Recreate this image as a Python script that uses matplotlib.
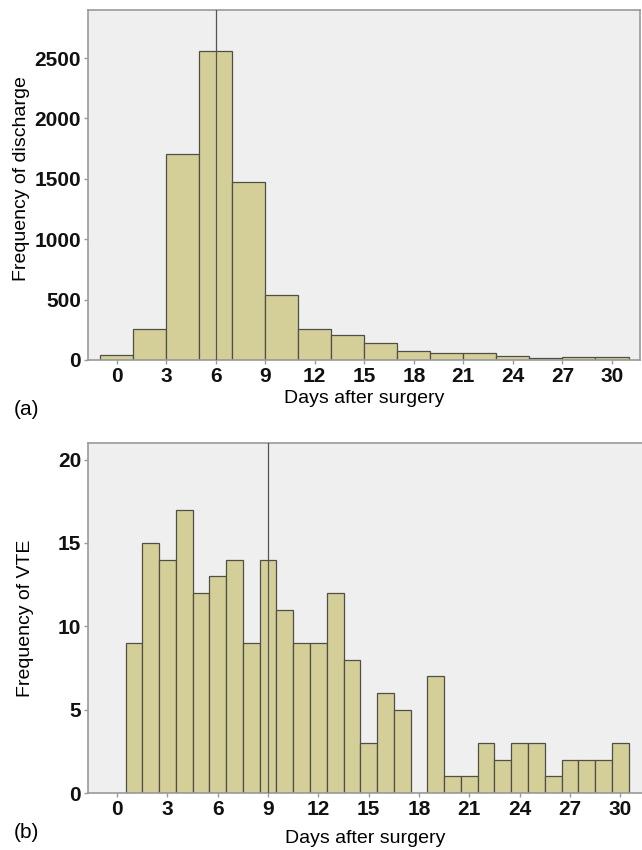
"""Histograms of discharge day and VTE day after surgery (two panels)."""

import matplotlib
matplotlib.use("Agg")
import matplotlib.pyplot as plt

# --- data ---------------------------------------------------------------
# (a) discharge, 2-day bins centred on even days
discharge_days = [0, 2, 4, 6, 8, 10, 12, 14, 16, 18, 20, 22, 24, 26, 28, 30]
discharge_freq = [44, 256, 1707, 2555, 1476, 534, 259, 206, 138, 72, 61, 55,
                  33, 19, 25, 25]
discharge_median = 6

# (b) VTE, 1-day bins
vte_days = list(range(1, 31))
vte_freq = [9, 15, 14, 17, 12, 13, 14, 9, 14, 11, 9, 9, 12, 8, 3, 6, 5, 0,
            7, 1, 1, 3, 2, 3, 3, 1, 2, 2, 2, 3]
vte_median = 9

xticks = list(range(0, 31, 3))

BAR = "#d4cf98"
EDGE = "#4f4f45"
BG = "#efefef"
SPINE = "#9a9a9a"
TXT = ["Liberation Sans", "DejaVu Sans"]

plt.rcParams["font.family"] = ["Liberation Sans Narrow", "Liberation Sans",
                               "DejaVu Sans"]

fig = plt.figure(figsize=(6.42, 8.5), dpi=100)
ax_a = fig.add_axes([0.137, 0.5765, 0.860, 0.4115])
ax_b = fig.add_axes([0.137, 0.067, 0.863, 0.412])


def style(ax):
    ax.set_facecolor(BG)
    for s in ax.spines.values():
        s.set_color(SPINE)
        s.set_linewidth(1.2)
    ax.tick_params(axis="both", colors=SPINE, length=3, width=1,
                   labelcolor="#111111", labelsize=15, pad=2)
    for lab in ax.get_xticklabels() + ax.get_yticklabels():
        lab.set_fontweight("bold")


# --- (a) ----------------------------------------------------------------
ax_a.bar(discharge_days, discharge_freq, width=2, color=BAR, edgecolor=EDGE,
         linewidth=0.9, zorder=2)
ax_a.axvline(discharge_median, color="#555555", lw=0.9, zorder=3)
ax_a.set_xlim(-1.74, 31.7)
ax_a.set_ylim(0, 2896)
ax_a.set_xticks(xticks)
ax_a.set_yticks([0, 500, 1000, 1500, 2000, 2500])
style(ax_a)
ax_a.set_xlabel("Days after surgery", fontsize=14, family=TXT, labelpad=3)
ax_a.set_ylabel("Frequency of discharge", fontsize=14, family=TXT)
ax_a.yaxis.set_label_coords(-0.105, 0.52)

# --- (b) ----------------------------------------------------------------
ax_b.bar(vte_days, vte_freq, width=1, color=BAR, edgecolor=EDGE,
         linewidth=0.9, zorder=2)
ax_b.axvline(vte_median, color="#555555", lw=0.9, zorder=3)
ax_b.set_xlim(-1.74, 31.3)
ax_b.set_ylim(0, 21)
ax_b.set_xticks(xticks)
ax_b.set_yticks([0, 5, 10, 15, 20])
style(ax_b)
ax_b.spines["right"].set_visible(False)
ax_b.set_xlabel("Days after surgery", fontsize=14, family=TXT, labelpad=8)
ax_b.set_ylabel("Frequency of VTE", fontsize=14, family=TXT)
ax_b.yaxis.set_label_coords(-0.098, 0.5)

fig.text(0.022, 0.512, "(a)", fontsize=15, family=TXT)
fig.text(0.022, 0.014, "(b)", fontsize=15, family=TXT)

fig.savefig("out.png", dpi=100)
